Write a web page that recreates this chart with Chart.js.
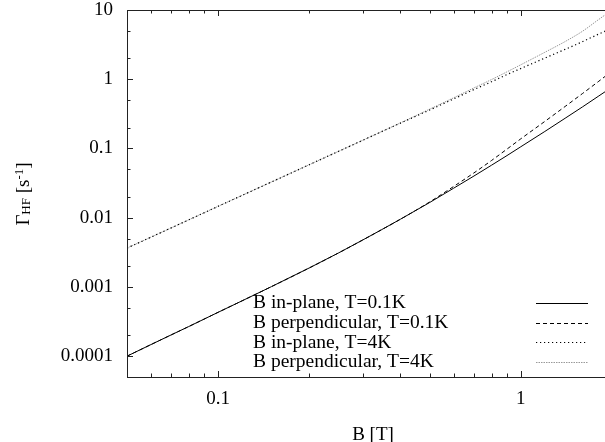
<!DOCTYPE html>
<html>
<head>
<meta charset="utf-8">
<script src="https://cdn.jsdelivr.net/npm/chart.js@4.4.1/dist/chart.umd.min.js"></script>
<style>
  html, body { margin: 0; padding: 0; overflow: hidden; background: #fff; }
  #box { width: 620px; height: 442px; }
</style>
</head>
<body>
<div id="box"><canvas id="rateChart"></canvas></div>
<script>
// magnetic field B [T]
const fieldB = [0.05, 0.06, 0.07, 0.08, 0.1, 0.12, 0.15, 0.2, 0.25, 0.3, 0.4, 0.5, 0.6, 0.7, 0.8, 0.9, 1.0, 1.2, 1.4, 1.6, 1.8, 2.0];

// rates
const inPlane01K = [1.0e-4, 1.47e-4, 2.03e-4, 2.68e-4, 4.3e-4, 6.3e-4, 1.01e-3, 1.88e-3, 3.1e-3, 4.75e-3, 0.0095, 0.0166, 0.0267, 0.040, 0.0573, 0.079, 0.106, 0.176, 0.273, 0.40, 0.565, 0.77];
const perp01K    = [1.0e-4, 1.47e-4, 2.03e-4, 2.68e-4, 4.3e-4, 6.3e-4, 1.01e-3, 1.88e-3, 3.1e-3, 4.75e-3, 0.0095, 0.0169, 0.0283, 0.0444, 0.067, 0.098, 0.138, 0.246, 0.404, 0.624, 0.92, 1.31];
const inPlane4K  = [0.00364, 0.00524, 0.00713, 0.00932, 0.0146, 0.021, 0.0328, 0.0583, 0.091, 0.131, 0.232, 0.36, 0.52, 0.71, 0.92, 1.17, 1.43, 2.02, 2.7, 3.5, 4.45, 5.45];
const perp4K     = [0.00364, 0.00524, 0.00713, 0.00932, 0.0146, 0.021, 0.0328, 0.0583, 0.091, 0.131, 0.234, 0.37, 0.54, 0.75, 0.99, 1.28, 1.62, 2.45, 3.5, 4.95, 7.2, 10.0];

const seriesLabels = ["B in-plane, T=0.1K", "B perpendicular, T=0.1K", "B in-plane, T=4K", "B perpendicular, T=4K"];

const xTicks = [0.1, 1];
const xMinorTicks = [0.06, 0.07, 0.08, 0.09, 0.2, 0.3, 0.4, 0.5, 0.6, 0.7, 0.8, 0.9];
const yTicks = [0.0001, 0.001, 0.01, 0.1, 1, 10];
const yMinorTicks = [0.0002, 0.0005, 0.002, 0.005, 0.02, 0.05, 0.2, 0.5, 2, 5];

const serif = '"Liberation Serif", "Times New Roman", serif';

function pts(vals) {
  return fieldB.map((b, i) => ({ x: b, y: vals[i] }));
}

// gnuplot-ish frame, inward ticks, key and axis titles
const decor = {
  id: 'decor',
  afterDraw(chart) {
    const { ctx, chartArea: a, scales: { x, y } } = chart;
    ctx.save();
    ctx.strokeStyle = '#222';
    ctx.lineWidth = 1;
    ctx.setLineDash([]);
    ctx.strokeRect(a.left + 0.5, a.top + 0.5, a.right - a.left, a.bottom - a.top);

    ctx.beginPath();
    const xt = (v, len) => {
      const px = Math.round(x.getPixelForValue(v)) + 0.5;
      ctx.moveTo(px, a.bottom); ctx.lineTo(px, a.bottom - len);
      ctx.moveTo(px, a.top); ctx.lineTo(px, a.top + len);
    };
    const yt = (v, len) => {
      const py = Math.round(y.getPixelForValue(v)) + 0.5;
      ctx.moveTo(a.left, py); ctx.lineTo(a.left + len, py);
      ctx.moveTo(a.right, py); ctx.lineTo(a.right - len, py);
    };
    xTicks.forEach(v => xt(v, 6));
    xMinorTicks.forEach(v => xt(v, 3.5));
    yTicks.forEach(v => yt(v, 6));
    yMinorTicks.forEach(v => yt(v, 3.5));
    ctx.stroke();

    // key
    ctx.font = '19.5px ' + serif;
    ctx.fillStyle = '#000';
    ctx.textAlign = 'left';
    ctx.textBaseline = 'middle';
    chart.data.datasets.forEach((ds, i) => {
      const ry = 303 + i * 19.7;
      ctx.fillText(ds.label, 253, ry);
      ctx.beginPath();
      ctx.strokeStyle = ds.borderColor;
      ctx.lineWidth = ds.borderWidth;
      ctx.setLineDash(ds.borderDash || []);
      ctx.moveTo(536, Math.round(ry) + 0.5);
      ctx.lineTo(588, Math.round(ry) + 0.5);
      ctx.stroke();
    });
    ctx.setLineDash([]);

    // x title
    ctx.font = '19px ' + serif;
    ctx.textAlign = 'center';
    ctx.textBaseline = 'alphabetic';
    ctx.fillText('B [T]', 373, 440);

    // y title with sub/superscript
    ctx.translate(22, 194);
    ctx.rotate(-Math.PI / 2);
    const parts = [
      { t: '\u0393', s: 19, dy: 0 },
      { t: 'HF', s: 13, dy: 1.5 },
      { t: ' [s', s: 19, dy: 0 },
      { t: '-1', s: 13, dy: -5.5 },
      { t: ']', s: 19, dy: 0 }
    ];
    let total = 0;
    parts.forEach(p => { ctx.font = p.s + 'px ' + serif; p.w = ctx.measureText(p.t).width; total += p.w; });
    let cx = -total / 2;
    ctx.textAlign = 'left';
    parts.forEach(p => {
      ctx.font = p.s + 'px ' + serif;
      ctx.fillText(p.t, cx, 6.5 + p.dy);
      cx += p.w;
    });
    ctx.restore();
  }
};

new Chart(document.getElementById('rateChart'), {
  type: 'line',
  data: {
    datasets: [
      { label: seriesLabels[0], data: pts(inPlane01K), borderColor: '#000', borderWidth: 1 },
      { label: seriesLabels[1], data: pts(perp01K), borderColor: '#000', borderWidth: 1, borderDash: [4, 3] },
      { label: seriesLabels[2], data: pts(inPlane4K), borderColor: '#000', borderWidth: 1.2, borderDash: [1.2, 2.8] },
      { label: seriesLabels[3], data: pts(perp4K), borderColor: '#999', borderWidth: 1, borderDash: [1.5, 1] }
    ]
  },
  options: {
    responsive: true,
    maintainAspectRatio: false,
    animation: false,
    layout: { padding: { top: 10, right: 8, left: 0, bottom: 0 } },
    elements: {
      point: { radius: 0 },
      line: { cubicInterpolationMode: 'monotone' }
    },
    plugins: {
      legend: { display: false },
      tooltip: { enabled: false }
    },
    scales: {
      x: {
        type: 'logarithmic',
        min: 0.05,
        max: 2,
        grid: { display: false, drawTicks: false },
        border: { display: false },
        afterBuildTicks: s => { s.ticks = xTicks.map(v => ({ value: v })); },
        afterFit: s => { s.height = 65; s.paddingLeft = 0; s.paddingRight = 0; },
        ticks: {
          autoSkip: false, maxRotation: 0, padding: 11, color: '#000',
          font: { family: serif, size: 19 },
          callback: v => String(v)
        }
      },
      y: {
        type: 'logarithmic',
        min: 0.00005,
        max: 10,
        grid: { display: false, drawTicks: false },
        border: { display: false },
        afterBuildTicks: s => { s.ticks = yTicks.map(v => ({ value: v })); },
        afterFit: s => { s.width = 127; s.paddingTop = 0; s.paddingBottom = 0; },
        ticks: {
          autoSkip: false, padding: 14, color: '#000',
          font: { family: serif, size: 19 },
          callback: v => String(v)
        }
      }
    }
  },
  plugins: [decor]
});
</script>
</body>
</html>
